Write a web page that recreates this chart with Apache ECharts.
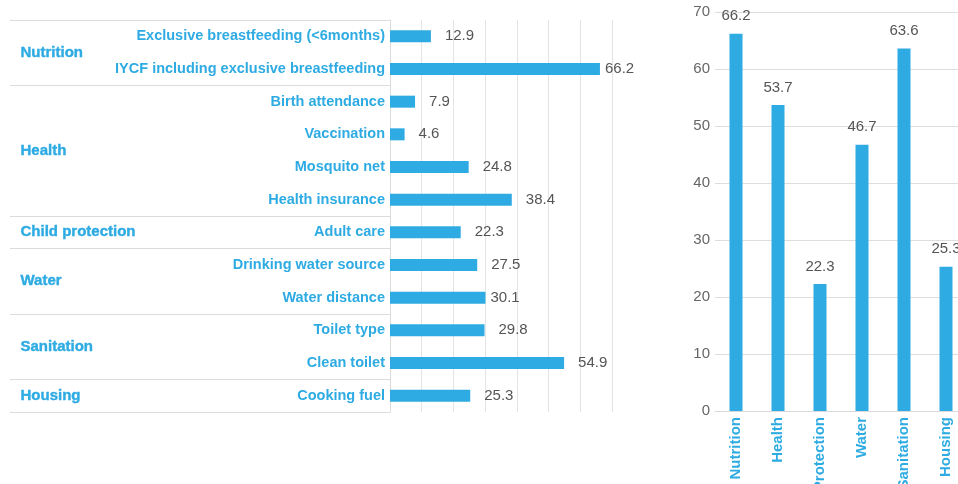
<!DOCTYPE html>
<html><head><meta charset="utf-8">
<script src="https://cdn.jsdelivr.net/npm/echarts@6/dist/echarts.min.js"></script>
<style>html,body{margin:0;padding:0;background:#fff}#c{width:958px;height:484px}</style>
</head><body><div id="c"></div>
<script>
// ---- data ----
const indicators = ['Exclusive breastfeeding (<6months)', 'IYCF including exclusive breastfeeding', 'Birth attendance', 'Vaccination', 'Mosquito net', 'Health insurance', 'Adult care', 'Drinking water source', 'Water distance', 'Toilet type', 'Clean toilet', 'Cooking fuel'];
const indicatorValues = [12.9, 66.2, 7.9, 4.6, 24.8, 38.4, 22.3, 27.5, 30.1, 29.8, 54.9, 25.3];
const groups = ['Nutrition', 'Health', 'Child protection', 'Water', 'Sanitation', 'Housing'];
const groupSizes = [2, 4, 1, 2, 2, 1];
const dimensions = ['Nutrition', 'Health', 'Child Protection', 'Water', 'Sanitation', 'Housing'];
const dimensionValues = [66.2, 53.7, 22.3, 46.7, 63.6, 25.3];
const axisMax = 70;
const axisStep = 10;

// ---- build ----
const BLUE = '#2eabe2';
const FONT = '"Liberation Sans", Arial, Helvetica, sans-serif';
const boundaries = [0];
groupSizes.forEach(s => boundaries.push(boundaries[boundaries.length - 1] + s));
const groupCenters = groupSizes.map((s, i) => boundaries[i] + s / 2);
const closeLabels = new Set([1, 8]);

const chart = echarts.init(document.getElementById('c'), null, {renderer: 'canvas'});
chart.setOption({
  animation: false,
  backgroundColor: '#fff',
  textStyle: {fontFamily: FONT},
  grid: [
    {left: 390, right: 346, top: 20, bottom: 72, containLabel: false, outerBoundsMode: 'none'},
    {left: 10, right: 568, top: 20, bottom: 72, containLabel: false, outerBoundsMode: 'none'},
    {left: 715, right: -9, top: 12, bottom: 73, containLabel: false, outerBoundsMode: 'none'}
  ],
  xAxis: [
    {gridIndex: 0, type: 'value', min: 0, max: axisMax, interval: axisStep,
     axisLabel: {show: false}, axisLine: {show: false}, axisTick: {show: false},
     splitLine: {show: true, lineStyle: {color: '#e4e4e4', width: 1}}},
    {gridIndex: 1, type: 'value', min: 0, max: 1, show: false},
    {gridIndex: 2, type: 'category', data: dimensions,
     axisLine: {show: true, lineStyle: {color: '#d9d9d9', width: 1}},
     axisTick: {show: false},
     axisLabel: {rotate: 90, interval: 0, margin: 6, color: BLUE, fontWeight: 'bold', fontSize: 15, fontFamily: FONT}}
  ],
  yAxis: [
    {gridIndex: 0, type: 'category', data: indicators, inverse: true,
     axisLine: {show: true, lineStyle: {color: '#dcdcdc', width: 1}},
     axisTick: {show: false},
     axisLabel: {interval: 0, margin: 5, color: BLUE, fontWeight: 'bold', fontSize: 14.5, fontFamily: FONT}},
    {gridIndex: 1, type: 'value', min: 0, max: boundaries[boundaries.length - 1], inverse: true, show: false},
    {gridIndex: 2, type: 'value', min: 0, max: axisMax, interval: axisStep,
     axisLine: {show: false}, axisTick: {show: false},
     axisLabel: {margin: 5, color: '#666', fontSize: 15, fontFamily: FONT},
     splitLine: {show: true, lineStyle: {color: '#dedede', width: 1}}}
  ],
  series: [
    {type: 'bar', xAxisIndex: 0, yAxisIndex: 0, barWidth: 12,
     itemStyle: {color: BLUE},
     data: indicatorValues.map((v, i) => ({value: v,
       label: {distance: closeLabels.has(i) ? 5 : 14}})),
     label: {show: true, position: 'right', color: '#555', fontSize: 15, fontFamily: FONT}},
    {type: 'scatter', xAxisIndex: 1, yAxisIndex: 1, symbol: 'rect', symbolSize: 1, silent: true,
     itemStyle: {color: 'rgba(0,0,0,0)', opacity: 1},
     data: groups.map((g, i) => ({value: [0, groupCenters[i]], name: g})),
     label: {show: true, position: 'right', distance: 10, opacity: 1,
       formatter: p => p.name,
       color: BLUE, fontWeight: 'bold', fontSize: 15, fontFamily: FONT,
       textBorderWidth: 0.4, textBorderColor: BLUE},
     emphasis: {disabled: true},
     markLine: {silent: true, symbol: 'none', label: {show: false},
       lineStyle: {color: '#dcdcdc', type: 'solid', width: 1, opacity: 1},
       data: boundaries.map(b => ({yAxis: b}))}},
    {type: 'bar', xAxisIndex: 2, yAxisIndex: 2, barWidth: 13,
     itemStyle: {color: BLUE},
     data: dimensionValues,
     label: {show: true, position: 'top', distance: 10, color: '#555', fontSize: 15, fontFamily: FONT}}
  ]
});
</script>
</body></html>
